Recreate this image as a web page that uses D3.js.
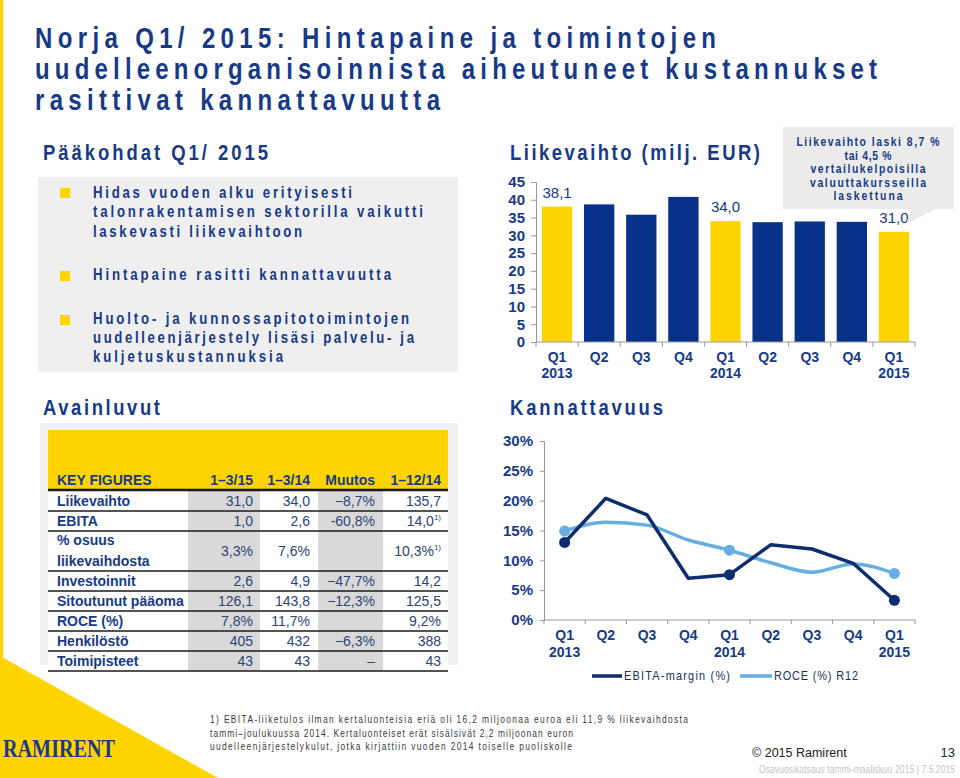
<!DOCTYPE html>
<html><head><meta charset="utf-8">
<script src="https://cdn.jsdelivr.net/npm/d3@7"></script>
<style>body{margin:0;background:#fff}svg{display:block}</style>
</head><body>
<svg id="c" width="960" height="778"></svg>
<script>
// ---------- DATA ----------
const quarters = ["Q1","Q2","Q3","Q4","Q1","Q2","Q3","Q4","Q1"];
const years = ["2013","","","","2014","","","","2015"];
const revenue = [38.1,38.7,35.8,40.8,34.0,33.7,33.9,33.8,31.0];
const revenueLabels = ["38,1","","","","34,0","","","","31,0"];
const highlighted = [true,false,false,false,true,false,false,false,true];
const revenueTicks = [0,5,10,15,20,25,30,35,40,45];
const ebitaMargin = [13.0,20.4,17.6,7.0,7.6,12.6,11.9,9.5,3.3];
const roceR12 = [14.9,16.4,15.9,13.4,11.7,9.6,8.0,9.4,7.8];
const markerIdx = [0,4,8];
const percentTicks = [0,5,10,15,20,25,30];
const legendLabels = ["EBITA-margin (%)","ROCE (%) R12"];

const tableHeader = ["KEY FIGURES","1–3/15","1–3/14","Muutos","1–12/14"];
const tableLabels = [["Liikevaihto"],["EBITA"],["% osuus","liikevaihdosta"],["Investoinnit"],["Sitoutunut pääoma"],["ROCE (%)"],["Henkilöstö"],["Toimipisteet"]];
const colQ115 = ["31,0","1,0","3,3%","2,6","126,1","7,8%","405","43"];
const colQ114 = ["34,0","2,6","7,6%","4,9","143,8","11,7%","432","43"];
const colChange = ["−8,7%","-60,8%","","−47,7%","−12,3%","","−6,3%","–"];
const colFY14 = ["135,7","14,0","10,3%","14,2","125,5","9,2%","388","43"];
const colFY14Note = ["","1)","1)","","","","",""];

const titleLines = ["Norja Q1/ 2015: Hintapaine ja toimintojen","uudelleenorganisoinnista aiheutuneet kustannukset","rasittivat kannattavuutta"];
const bullets = [["Hidas vuoden alku erityisesti","talonrakentamisen sektorilla vaikutti","laskevasti liikevaihtoon"],["Hintapaine rasitti kannattavuutta"],["Huolto- ja kunnossapitotoimintojen","uudelleenjärjestely lisäsi palvelu- ja","kuljetuskustannuksia"]];
const calloutLines = ["Liikevaihto laski 8,7 %","tai 4,5 %","vertailukelpoisilla","valuuttakursseilla","laskettuna"];
const footnoteLines = ["1) EBITA-liiketulos ilman kertaluonteisia eriä oli 16,2 miljoonaa euroa eli 11,9 % liikevaihdosta","tammi–joulukuussa 2014. Kertaluonteiset erät sisälsivät 2,2 miljoonan euron","uudelleenjärjestelykulut, jotka kirjattiin vuoden 2014 toiselle puoliskolle"];

// ---------- STYLE ----------
const NAVY = "#173a87", BAR_NAVY = "#08318a", YELLOW = "#ffd400", DARK = "#0e2d6d", LIGHT = "#66aee2";
const SANS = "'Liberation Sans',Arial,sans-serif";

const svg = d3.select("#c");

function txt(x, y, s, o) {
  o = o || {};
  const t = svg.append("text").attr("x", x).attr("y", y).text(s)
    .attr("font-family", o.family || SANS)
    .attr("font-size", o.size || 13)
    .attr("font-weight", o.weight || "normal")
    .attr("fill", o.fill || NAVY)
    .attr("text-anchor", o.anchor || "start");
  if (o.len) t.attr("textLength", o.len).attr("lengthAdjust", o.adjust || "spacing");
  return t;
}
// condensed glyphs + letter spacing to fill a given width
function spaced(x, y, s, len, o) {
  o = o || {};
  const sx = o.sx || 0.8;
  let x0 = x;
  if (o.anchor === "middle") x0 = x - len/2;
  const g = svg.append("g").attr("transform", `translate(${x0},${y}) scale(${sx},1)`);
  g.append("text").attr("x",0).attr("y",0).text(s)
    .attr("font-family", SANS)
    .attr("font-size", o.size || 13)
    .attr("font-weight", o.weight || "normal")
    .attr("fill", o.fill || NAVY)
    .attr("textLength", len/sx).attr("lengthAdjust","spacing");
  return g;
}

// ---------- DECOR ----------
svg.append("rect").attr("x",0).attr("y",0).attr("width",3).attr("height",778).attr("fill",YELLOW);
svg.append("polygon").attr("points","0,656 0,778 218,778").attr("fill",YELLOW);
txt(3, 757, "RAMIRENT", {family:"'Liberation Serif','DejaVu Serif',serif", weight:"bold", size:26, fill:"#1b3a8a", len:112, adjust:"spacingAndGlyphs"});

// ---------- TITLE ----------
const titleW = [681, 842, 405];
titleLines.forEach((l,i)=> spaced(35, 48 + i*31, l, titleW[i], {weight:"bold", size:30, sx:0.8}));

// ---------- LEFT TOP: bullets ----------
spaced(43, 160, "Pääkohdat Q1/ 2015", 225, {weight:"bold", size:22, sx:0.84});
svg.append("rect").attr("x",38).attr("y",177).attr("width",420).attr("height",195).attr("fill","#efefef");
const bulletTops = [188, 271, 315];
const bulletBase = [[198,217,237],[280],[324,343,362]];
const bulletW = [[259,330,209],[298],[316,321,190]];
bullets.forEach((b,i)=>{
  svg.append("rect").attr("x",60).attr("y",bulletTops[i]).attr("width",10).attr("height",10).attr("fill",YELLOW);
  b.forEach((l,j)=> spaced(93, bulletBase[i][j], l, bulletW[i][j], {weight:"bold", size:16.5, sx:0.8}));
});

// ---------- LEFT BOTTOM: table ----------
spaced(43, 415, "Avainluvut", 117, {weight:"bold", size:22, sx:0.84});
svg.append("rect").attr("x",40).attr("y",423).attr("width",418).attr("height",242).attr("fill","#f0f0f0");
svg.append("rect").attr("x",48).attr("y",430).attr("width",400).attr("height",60).attr("fill",YELLOW);
const rowSpan = [1,1,2,1,1,1,1,1];
const rowTop = [];
let yy = 491;
rowSpan.forEach(s=>{ rowTop.push(yy); yy += s*20; });
const tableBottom = yy;
svg.append("rect").attr("x",48).attr("y",490).attr("width",400).attr("height",tableBottom-490).attr("fill","#ffffff");
svg.append("rect").attr("x",188).attr("y",490).attr("width",72).attr("height",tableBottom-490).attr("fill","#d9d9d9");
svg.append("rect").attr("x",318).attr("y",490).attr("width",65).attr("height",tableBottom-490).attr("fill","#d9d9d9");
const colRight = [253, 310, 375, 441];
txt(57, 485, tableHeader[0], {weight:"bold", size:14, fill:NAVY});
tableHeader.slice(1).forEach((h,i)=> txt(colRight[i], 485, h, {weight:"bold", size:14, fill:NAVY, anchor:"end"}));
const cols = [colQ115, colQ114, colChange, colFY14];
tableLabels.forEach((lab,i)=>{
  const top = rowTop[i], h = rowSpan[i]*20;
  if (lab.length === 1) txt(57, top+h-5, lab[0], {weight:"bold", size:14, fill:NAVY});
  else lab.forEach((l,j)=> txt(57, top+14+j*21, l, {weight:"bold", size:14, fill:NAVY}));
  cols.forEach((c,k)=>{
    if (!c[i]) return;
    const t = txt(colRight[k], top+h/2+5, c[i], {size:14, fill:"#2b4473", anchor:"end"});
    if (k===3 && colFY14Note[i]) {
      t.append("tspan").attr("font-size",8).attr("dy",-6).text(colFY14Note[i]);
    }
  });
  svg.append("line").attr("x1",48).attr("x2",448).attr("y1",top+h).attr("y2",top+h)
    .attr("stroke","#1a1a1a").attr("stroke-width",1.5);
});
svg.append("line").attr("x1",48).attr("x2",448).attr("y1",490).attr("y2",490).attr("stroke","#1a1a1a").attr("stroke-width",2.5);

// ---------- RIGHT TOP: revenue bars ----------
spaced(510, 160, "Liikevaihto (milj. EUR)", 250, {weight:"bold", size:22, sx:0.84});
const xb = d3.scaleBand().domain(d3.range(quarters.length)).range([536, 915]).paddingInner(0.28).paddingOuter(0.14);
const yb = d3.scaleLinear().domain([0,45]).range([342,182]);
const gB = svg.append("g");
gB.selectAll("rect.bar").data(revenue).join("rect").attr("class","bar")
  .attr("x",(d,i)=>xb(i)).attr("width",xb.bandwidth())
  .attr("y",d=>yb(d)).attr("height",d=>yb(0)-yb(d))
  .attr("fill",(d,i)=>highlighted[i]?YELLOW:BAR_NAVY);
revenue.forEach((d,i)=>{
  if (revenueLabels[i]) txt(xb(i)+xb.bandwidth()/2, yb(d)-9, revenueLabels[i], {size:15, fill:NAVY, anchor:"middle"});
});
const yAxB = d3.axisLeft(yb).tickValues(revenueTicks).tickSize(5).tickPadding(6);
const gyb = svg.append("g").attr("transform","translate(536,0)").call(yAxB);
gyb.selectAll("text").attr("font-family",SANS).attr("font-size",15).attr("font-weight","bold").attr("fill",NAVY);
gyb.selectAll("line,path").attr("stroke","#999");
svg.append("line").attr("x1",536).attr("x2",915).attr("y1",342).attr("y2",342).attr("stroke","#999");
d3.range(quarters.length+1).forEach(i=>{
  const x = 536 + i*xb.step();
  svg.append("line").attr("x1",x).attr("x2",x).attr("y1",342).attr("y2",347).attr("stroke","#999");
});
quarters.forEach((q,i)=>{
  const cx = xb(i)+xb.bandwidth()/2;
  txt(cx, 362, q, {weight:"bold", size:14, fill:NAVY, anchor:"middle"});
  if (years[i]) txt(cx, 378, years[i], {weight:"bold", size:14, fill:NAVY, anchor:"middle"});
});
// callout
svg.append("rect").attr("x",783).attr("y",127).attr("width",171).attr("height",82).attr("fill","#ebebeb");
svg.append("polygon").attr("points","912,208 938,208 906,224").attr("fill","#ebebeb");
const callW = [143, 47, 115, 116, 69];
calloutLines.forEach((l,i)=> spaced(868, 146 + i*13.5, l, callW[i], {weight:"bold", size:13, anchor:"middle", sx:0.8}));

// ---------- RIGHT BOTTOM: profitability lines ----------
spaced(510, 415, "Kannattavuus", 153, {weight:"bold", size:22, sx:0.84});
const xl = d3.scaleBand().domain(d3.range(quarters.length)).range([544, 915]);
const cxl = i => xl(i) + xl.bandwidth()/2;
const yl = d3.scaleLinear().domain([0,30]).range([620,441]);
const gyl = svg.append("g").attr("transform","translate(544,0)")
  .call(d3.axisLeft(yl).tickValues(percentTicks).tickFormat(d=>d+"%").tickSize(4).tickPadding(7));
gyl.selectAll("text").attr("font-family",SANS).attr("font-size",15).attr("font-weight","bold").attr("fill",NAVY);
gyl.selectAll("line,path").attr("stroke","#999");
svg.append("line").attr("x1",544).attr("x2",915).attr("y1",620).attr("y2",620).attr("stroke","#999");
d3.range(quarters.length+1).forEach(i=>{
  const x = 544 + i*xl.step();
  svg.append("line").attr("x1",x).attr("x2",x).attr("y1",620).attr("y2",624).attr("stroke","#999");
});
quarters.forEach((q,i)=>{
  txt(cxl(i), 640, q, {weight:"bold", size:14, fill:NAVY, anchor:"middle"});
  if (years[i]) txt(cxl(i), 657, years[i], {weight:"bold", size:14, fill:NAVY, anchor:"middle"});
});
const lineR = d3.line().x((d,i)=>cxl(i)).y(d=>yl(d)).curve(d3.curveMonotoneX);
const lineE = d3.line().x((d,i)=>cxl(i)).y(d=>yl(d));
svg.append("path").attr("d",lineR(roceR12)).attr("fill","none").attr("stroke",LIGHT).attr("stroke-width",3.5).attr("stroke-linejoin","round");
svg.append("path").attr("d",lineE(ebitaMargin)).attr("fill","none").attr("stroke",DARK).attr("stroke-width",3.5).attr("stroke-linejoin","round");
markerIdx.forEach(i=>{
  svg.append("circle").attr("cx",cxl(i)).attr("cy",yl(roceR12[i])).attr("r",5.5).attr("fill",LIGHT);
  svg.append("circle").attr("cx",cxl(i)).attr("cy",yl(ebitaMargin[i])).attr("r",5.5).attr("fill",DARK);
});
// legend
svg.append("line").attr("x1",592).attr("x2",622).attr("y1",676).attr("y2",676).attr("stroke",DARK).attr("stroke-width",3.5);
spaced(624, 680, legendLabels[0], 106, {size:13, fill:"#1a2f5e", sx:0.84});
svg.append("line").attr("x1",740).attr("x2",772).attr("y1",676).attr("y2",676).attr("stroke",LIGHT).attr("stroke-width",3.5);
spaced(774, 680, legendLabels[1], 84, {size:13, fill:"#1a2f5e", sx:0.84});

// ---------- FOOTER ----------
const footW = [478, 363, 362];
footnoteLines.forEach((l,i)=> spaced(210, 723 + i*13.5, l, footW[i], {size:10.5, fill:"#3a3a3a", sx:0.8}));
txt(752, 757, "© 2015 Ramirent", {size:12.5, fill:"#222"});
txt(955, 757, "13", {size:13, fill:"#222", anchor:"end"});
spaced(759, 773, "Osavuosikatsaus tammi-maaliskuu 2015 | 7.5.2015", 196, {size:10, fill:"#c4c4c4", sx:0.85});
</script>
</body></html>
